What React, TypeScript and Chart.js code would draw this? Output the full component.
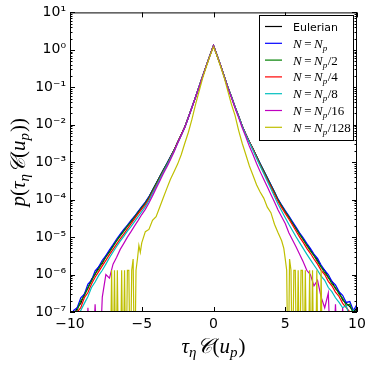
import React, { useEffect, useRef } from 'react';
import { Chart, registerables } from 'chart.js';

Chart.register(...registerables);

// ---------- data ----------
const xGrid = [
  -10, -9.75, -9.5, -9.25, -9, -8.75, -8.5, -8.25, -8, -7.75,
  -7.5, -7.25, -7, -6.75, -6.5, -6.25, -6, -5.75, -5.5, -5.25,
  -5, -4.75, -4.5, -4.25, -4, -3.75, -3.5, -3.25, -3, -2.75,
  -2.5, -2.25, -2, -1.75, -1.5, -1.25, -1, -0.75, -0.5, -0.25,
  0,
  0.25, 0.5, 0.75, 1, 1.25, 1.5, 1.75, 2, 2.25, 2.5,
  2.75, 3, 3.25, 3.5, 3.75, 4, 4.25, 4.5, 4.75, 5,
  5.25, 5.5, 5.75, 6, 6.25, 6.5, 6.75, 7, 7.25, 7.5,
  7.75, 8, 8.25, 8.5, 8.75, 9, 9.25, 9.5, 9.75, 10,
];

const eulerian = [
  4.0e-8, 7.9e-8, 1.3e-7, 1.7e-7, 3.0e-7, 4.3e-7, 7.5e-7, 1.0e-6, 1.6e-6, 2.0e-6,
  3.1e-6, 4.1e-6, 5.9e-6, 8.1e-6, 1.12e-5, 1.48e-5, 2.0e-5, 2.6e-5, 3.5e-5, 4.7e-5,
  6.3e-5, 8.3e-5, 1.17e-4, 1.78e-4, 2.7e-4, 4.1e-4, 6.2e-4, 9.1e-4, 1.38e-3, 2.1e-3,
  3.4e-3, 5.4e-3, 8.7e-3, 1.58e-2, 2.95e-2, 5.5e-2, 1.05e-1, 2.0e-1, 3.8e-1, 7.1e-1,
  1.3,
  7.1e-1, 3.8e-1, 1.95e-1, 1.0e-1, 5.6e-2, 3.0e-2, 1.7e-2, 9.3e-3, 5.6e-3, 3.5e-3,
  2.3e-3, 1.45e-3, 9.1e-4, 5.9e-4, 3.8e-4, 2.45e-4, 1.58e-4, 1.0e-4, 6.9e-5, 4.9e-5,
  3.5e-5, 2.45e-5, 1.74e-5, 1.23e-5, 8.9e-6, 6.3e-6, 4.6e-6, 3.3e-6, 2.4e-6, 1.6e-6,
  1.3e-6, 8.3e-7, 6.6e-7, 4.2e-7, 3.4e-7, 2.1e-7, 1.7e-7, 1.4e-7, 1.0e-7, 1.3e-7,
];

const nFull = [
  6.0e-8, 1.1e-7, 1.3e-7, 2.4e-7, 3.0e-7, 5.6e-7, 7.1e-7, 1.25e-6, 1.6e-6, 2.4e-6,
  3.2e-6, 4.6e-6, 6.3e-6, 8.9e-6, 1.2e-5, 1.6e-5, 2.1e-5, 2.8e-5, 3.6e-5, 4.9e-5,
  6.5e-5, 8.6e-5, 1.2e-4, 1.8e-4, 2.7e-4, 4.1e-4, 6.2e-4, 9.2e-4, 1.39e-3, 2.1e-3,
  3.4e-3, 5.4e-3, 8.7e-3, 1.58e-2, 2.95e-2, 5.5e-2, 1.05e-1, 2.0e-1, 3.8e-1, 7.1e-1,
  1.3,
  7.1e-1, 3.8e-1, 1.95e-1, 1.0e-1, 5.6e-2, 3.0e-2, 1.7e-2, 9.3e-3, 5.6e-3, 3.5e-3,
  2.3e-3, 1.45e-3, 9.2e-4, 6.0e-4, 3.9e-4, 2.5e-4, 1.62e-4, 1.03e-4, 7.2e-5, 5.1e-5,
  3.7e-5, 2.6e-5, 1.85e-5, 1.3e-5, 9.6e-6, 6.8e-6, 5.0e-6, 3.5e-6, 2.7e-6, 1.8e-6,
  1.3e-6, 1.0e-6, 6.6e-7, 5.3e-7, 3.5e-7, 2.8e-7, 1.8e-7, 1.9e-7, 1.1e-7, 1.6e-7,
];

const nHalf = [
  3.0e-8, 9.0e-8, 1.1e-7, 2.0e-7, 2.7e-7, 4.5e-7, 6.6e-7, 1.05e-6, 1.4e-6, 2.1e-6,
  2.9e-6, 4.0e-6, 5.6e-6, 7.9e-6, 1.08e-5, 1.44e-5, 1.95e-5, 2.55e-5, 3.4e-5, 4.6e-5,
  6.1e-5, 8.1e-5, 1.14e-4, 1.75e-4, 2.65e-4, 4.0e-4, 6.1e-4, 9.0e-4, 1.37e-3, 2.1e-3,
  3.4e-3, 5.4e-3, 8.7e-3, 1.58e-2, 2.95e-2, 5.5e-2, 1.05e-1, 2.0e-1, 3.8e-1, 7.1e-1,
  1.3,
  7.1e-1, 3.8e-1, 1.95e-1, 1.0e-1, 5.6e-2, 3.0e-2, 1.7e-2, 9.3e-3, 5.6e-3, 3.5e-3,
  2.3e-3, 1.44e-3, 9.0e-4, 5.8e-4, 3.7e-4, 2.4e-4, 1.54e-4, 9.7e-5, 6.7e-5, 4.7e-5,
  3.4e-5, 2.35e-5, 1.67e-5, 1.18e-5, 8.5e-6, 6.0e-6, 4.3e-6, 3.2e-6, 2.2e-6, 1.6e-6,
  1.1e-6, 8.5e-7, 5.6e-7, 4.5e-7, 3.0e-7, 2.3e-7, 1.5e-7, 1.6e-7, 9.0e-8, 1.2e-7,
];

const nQuarter = [
  2.0e-8, 5.0e-8, 1.0e-7, 1.3e-7, 2.4e-7, 3.3e-7, 5.6e-7, 8.5e-7, 1.2e-6, 1.7e-6,
  2.4e-6, 3.4e-6, 4.7e-6, 6.5e-6, 9.0e-6, 1.2e-5, 1.65e-5, 2.25e-5, 3.05e-5, 4.15e-5,
  5.6e-5, 7.4e-5, 1.04e-4, 1.58e-4, 2.4e-4, 3.65e-4, 5.6e-4, 8.3e-4, 1.3e-3, 2.05e-3,
  3.35e-3, 5.4e-3, 8.7e-3, 1.58e-2, 2.95e-2, 5.5e-2, 1.05e-1, 2.0e-1, 3.8e-1, 7.1e-1,
  1.3,
  7.1e-1, 3.8e-1, 1.95e-1, 1.0e-1, 5.6e-2, 3.0e-2, 1.7e-2, 9.3e-3, 5.6e-3, 3.45e-3,
  2.2e-3, 1.35e-3, 8.3e-4, 5.3e-4, 3.4e-4, 2.2e-4, 1.4e-4, 8.9e-5, 6.1e-5, 4.3e-5,
  3.05e-5, 2.1e-5, 1.45e-5, 1.0e-5, 7.2e-6, 5.0e-6, 3.7e-6, 2.6e-6, 1.9e-6, 1.3e-6,
  1.0e-6, 6.6e-7, 5.0e-7, 3.4e-7, 2.6e-7, 1.7e-7, 1.3e-7, 1.0e-7, 8.0e-8, 1.0e-7,
];

const nEighth = [
  1.0e-8, 4.0e-8, 7.0e-8, 1.1e-7, 1.7e-7, 2.6e-7, 4.5e-7, 6.3e-7, 9.5e-7, 1.3e-6,
  1.9e-6, 2.8e-6, 4.0e-6, 5.6e-6, 7.8e-6, 1.05e-5, 1.45e-5, 1.9e-5, 2.6e-5, 3.5e-5,
  4.8e-5, 6.5e-5, 9.4e-5, 1.47e-4, 2.25e-4, 3.5e-4, 5.4e-4, 8.1e-4, 1.25e-3, 1.95e-3,
  3.2e-3, 5.2e-3, 8.5e-3, 1.56e-2, 2.93e-2, 5.5e-2, 1.05e-1, 2.0e-1, 3.8e-1, 7.1e-1,
  1.3,
  7.1e-1, 3.8e-1, 1.95e-1, 1.0e-1, 5.6e-2, 3.0e-2, 1.7e-2, 9.2e-3, 5.4e-3, 3.35e-3,
  2.1e-3, 1.28e-3, 7.9e-4, 5.0e-4, 3.1e-4, 1.95e-4, 1.22e-4, 7.5e-5, 5.0e-5, 3.3e-5,
  2.2e-5, 1.5e-5, 1.02e-5, 7.1e-6, 5.0e-6, 3.5e-6, 2.5e-6, 1.8e-6, 1.3e-6, 9.0e-7,
  7.0e-7, 4.5e-7, 3.5e-7, 2.4e-7, 1.8e-7, 1.3e-7, 1.5e-7, 7.0e-8, 1.1e-7, 5.0e-8,
];

const nSixteenth = [
  null, null, null, null, 1e-9, 1.3e-7, 1e-9, 1.6e-7, 1e-9, 2.5e-7,
  1.0e-6, 8.0e-7, 1.9e-6, 2.9e-6, 4.7e-6, 6.8e-6, 1.0e-5, 1.4e-5, 2.0e-5, 2.8e-5,
  4.0e-5, 5.5e-5, 8.1e-5, 1.26e-4, 2.0e-4, 3.1e-4, 4.9e-4, 7.4e-4, 1.17e-3, 1.87e-3,
  3.2e-3, 5.2e-3, 8.4e-3, 1.55e-2, 2.9e-2, 5.4e-2, 1.03e-1, 1.98e-1, 3.75e-1, 7.0e-1,
  1.3,
  7.0e-1, 3.75e-1, 1.9e-1, 9.6e-2, 5.3e-2, 2.8e-2, 1.55e-2, 8.3e-3, 4.8e-3, 2.65e-3,
  1.6e-3, 9.2e-4, 5.6e-4, 3.5e-4, 2.2e-4, 1.37e-4, 8.6e-5, 5.3e-5, 3.5e-5, 2.3e-5,
  1.3e-5, 8.5e-6, 5.5e-6, 3.5e-6, 2.2e-6, 1.3e-6, 1.0e-6, 5.0e-7, 7.0e-7, 2.5e-7,
  1.3e-7, 3.2e-7, 1e-9, 1.6e-7, 1e-9, 1.3e-7, 1e-9, null, null, null,
];

const yellowX = [
  -7.2, -7.1, -7.0, -6.9, -6.8, -6.7, -6.6, -6.5, -6.4, -6.3,
  -6.2, -6.1, -6.0, -5.9, -5.8, -5.7, -5.6, -5.5, -5.4, -5.3,
  -5.2, -5.1, -5.0, -4.75, -4.5, -4.25, -4, -3.75, -3.5, -3.25,
  -3, -2.75, -2.5, -2.25, -2, -1.75, -1.5, -1.25, -1, -0.75,
  -0.5, -0.25, 0, 0.25, 0.5, 0.75, 1, 1.25, 1.5, 1.75,
  2, 2.25, 2.5, 2.75, 3, 3.25, 3.5, 3.75, 4, 4.25,
  4.5, 4.75, 4.9, 5.0, 5.1, 5.2, 5.3, 5.4, 5.5, 5.6,
  5.7, 5.8, 5.9, 6.0, 6.1, 6.2, 6.3, 6.4, 6.5, 6.6,
  6.7, 6.8, 6.9, 7.0, 7.1, 7.2, 7.3, 7.4, 7.5, 7.6,
];

const nOver128 = [
  1e-9, 1.3e-6, 1e-9, 1.3e-6, 1e-9, 1.3e-6, 1e-9, 1e-9, 1.3e-6, 1e-9,
  1.3e-6, 1e-9, 1.3e-6, 1.3e-6, 1e-9, 1.3e-6, 2.6e-6, 1e-9, 1.3e-6, 2.6e-6,
  6.0e-6, 3.9e-6, 7.0e-6, 1.4e-5, 1.6e-5, 2.8e-5, 3.5e-5, 6.3e-5, 1.12e-4, 2.0e-4,
  3.5e-4, 5.6e-4, 8.9e-4, 1.58e-3, 3.2e-3, 6.3e-3, 1.41e-2, 3.5e-2, 7.9e-2, 1.78e-1,
  3.55e-1, 6.8e-1, 1.2, 6.8e-1, 3.55e-1, 1.78e-1, 7.9e-2, 3.5e-2, 1.78e-2, 7.1e-3,
  3.2e-3, 1.6e-3, 7.9e-4, 4.5e-4, 2.5e-4, 1.6e-4, 1.1e-4, 6.3e-5, 4.5e-5, 2.2e-5,
  1.3e-5, 8.0e-6, 5.0e-6, 2.6e-6, 1.3e-6, 1e-9, 2.6e-6, 1.3e-6, 1e-9, 1.3e-6,
  1.3e-6, 1e-9, 1.3e-6, 1e-9, 1.3e-6, 1.3e-6, 1e-9, 1.3e-6, 1e-9, 1e-9,
  1.3e-6, 1e-9, 1.3e-6, 1e-9, 1e-9, 1.3e-6, 1e-9, 1e-9, 1.3e-6, 1e-9,
];

const seriesLabels = ['Eulerian', 'N=N_p', 'N=N_p/2', 'N=N_p/4', 'N=N_p/8', 'N=N_p/16', 'N=N_p/128'];
const legendSuffix = ['', '', '/2', '/4', '/8', '/16', '/128'];
const seriesColors = ['#000000', '#0000ff', '#008000', '#ff0000', '#00bfbf', '#bf00bf', '#bfbf00'];

const xTickValues = [-10, -5, 0, 5, 10];
const yTickExponents = [-7, -6, -5, -4, -3, -2, -1, 0, 1];

// ---------- helpers ----------
const SUP: Record<string, string> = {
  '-': '\u207B', '0': '\u2070', '1': '\u00B9', '2': '\u00B2', '3': '\u00B3',
  '4': '\u2074', '5': '\u2075', '6': '\u2076', '7': '\u2077', '8': '\u2078', '9': '\u2079',
};
const toSup = (s: string) => s.split('').map((c) => SUP[c] ?? c).join('');

type Seg = { t: string; f: string; dy?: number; gap?: number };

function segsWidth(ctx: CanvasRenderingContext2D, segs: Seg[]) {
  let w = 0;
  for (const s of segs) {
    ctx.font = s.f;
    w += ctx.measureText(s.t).width + (s.gap || 0);
  }
  return w;
}

function drawSegs(ctx: CanvasRenderingContext2D, segs: Seg[], x: number, y: number) {
  let cx = x;
  for (const s of segs) {
    ctx.font = s.f;
    ctx.fillText(s.t, cx, y + (s.dy || 0));
    cx += ctx.measureText(s.t).width + (s.gap || 0);
  }
}

const SERIF = '"Liberation Serif", "DejaVu Serif", serif';
const tIt = `italic 21px ${SERIF}`;
const tUp = `21px ${SERIF}`;
const tSub = `italic 15px ${SERIF}`;

const innerSegs: Seg[] = [
  { t: '\u03C4', f: tIt },
  { t: '\u03B7', f: tSub, dy: 4, gap: 1 },
  { t: '\uD835\uDC9E', f: tIt },
  { t: '(', f: tUp },
  { t: 'u', f: tIt },
  { t: 'p', f: tSub, dy: 4, gap: 1 },
  { t: ')', f: tUp },
];
const xTitleSegs: Seg[] = innerSegs;
const yTitleSegs: Seg[] = [{ t: 'p', f: tIt }, { t: '(', f: tUp }, ...innerSegs, { t: ')', f: tUp }];

const decorPlugin = {
  id: 'decor',
  afterDatasetsDraw(chart: any) {
    const { ctx, chartArea } = chart;
    const { left, right, top, bottom } = chartArea;
    const xs = chart.scales.x;
    const ys = chart.scales.y;
    ctx.save();
    ctx.strokeStyle = '#000';
    ctx.lineWidth = 1;
    ctx.strokeRect(left + 0.5, top + 0.5, right - left - 1, bottom - top - 1);
    ctx.beginPath();
    for (const v of xTickValues) {
      const px = Math.round(xs.getPixelForValue(v)) + 0.5;
      ctx.moveTo(px, bottom);
      ctx.lineTo(px, bottom - 5);
      ctx.moveTo(px, top);
      ctx.lineTo(px, top + 5);
    }
    for (const e of yTickExponents) {
      const py = Math.round(ys.getPixelForValue(Math.pow(10, e))) + 0.5;
      ctx.moveTo(left, py);
      ctx.lineTo(left + 5, py);
      ctx.moveTo(right, py);
      ctx.lineTo(right - 5, py);
      if (e < 1) {
        for (let k = 2; k <= 9; k++) {
          const pm = Math.round(ys.getPixelForValue(k * Math.pow(10, e))) + 0.5;
          ctx.moveTo(left, pm);
          ctx.lineTo(left + 2.5, pm);
          ctx.moveTo(right, pm);
          ctx.lineTo(right - 2.5, pm);
        }
      }
    }
    ctx.stroke();

    // legend
    const bx = 259.5, by = 15.5, bw = 94, bh = 125;
    ctx.fillStyle = '#fff';
    ctx.fillRect(bx, by, bw, bh);
    ctx.strokeStyle = '#000';
    ctx.lineWidth = 1;
    ctx.strokeRect(bx, by, bw, bh);
    ctx.textBaseline = 'alphabetic';
    ctx.textAlign = 'left';
    for (let i = 0; i < seriesLabels.length; i++) {
      const ry = 26.5 + i * 16.8;
      ctx.strokeStyle = seriesColors[i];
      ctx.lineWidth = 1.2;
      ctx.beginPath();
      ctx.moveTo(265, ry);
      ctx.lineTo(282, ry);
      ctx.stroke();
      ctx.fillStyle = '#000';
      if (i === 0) {
        ctx.font = '11px "DejaVu Sans"';
        ctx.fillText(seriesLabels[i], 293, ry + 4);
      } else {
        const lIt = `italic 13px ${SERIF}`;
        const lUp = `13px ${SERIF}`;
        const lSub = `italic 9px ${SERIF}`;
        const segs: Seg[] = [
          { t: 'N', f: lIt, gap: 2.5 },
          { t: '=', f: lUp, gap: 2.5 },
          { t: 'N', f: lIt },
          { t: 'p', f: lSub, dy: 3, gap: 0.5 },
          { t: legendSuffix[i], f: lUp },
        ];
        drawSegs(ctx, segs, 293, ry + 4.5);
      }
    }

    // axis titles
    ctx.fillStyle = '#000';
    const xw = segsWidth(ctx, xTitleSegs);
    drawSegs(ctx, xTitleSegs, (left + right) / 2 - xw / 2, 353);
    const yw = segsWidth(ctx, yTitleSegs);
    ctx.translate(25, (top + bottom) / 2);
    ctx.rotate(-Math.PI / 2);
    drawSegs(ctx, yTitleSegs, -yw / 2, 0);
    ctx.restore();
  },
};

export default function App() {
  const canvasRef = useRef<HTMLCanvasElement | null>(null);

  useEffect(() => {
    const canvas = canvasRef.current;
    if (!canvas) return;
    const mainSeries = [eulerian, nFull, nHalf, nQuarter, nEighth, nSixteenth];
    const datasets: any[] = mainSeries.map((vals, i) => ({
      label: seriesLabels[i],
      data: xGrid.map((x, j) => ({ x, y: vals[j] })),
      borderColor: seriesColors[i],
      borderWidth: 1.2,
      pointRadius: 0,
      tension: 0,
      fill: false,
      spanGaps: false,
      order: 6 - i,
    }));
    datasets.push({
      label: seriesLabels[6],
      data: yellowX.map((x, j) => ({ x, y: nOver128[j] })),
      borderColor: seriesColors[6],
      borderWidth: 1.2,
      pointRadius: 0,
      tension: 0,
      fill: false,
      spanGaps: false,
      order: 0,
    });

    const chart = new Chart(canvas, {
      type: 'line',
      data: { datasets },
      options: {
        animation: false,
        responsive: false,
        devicePixelRatio: 1,
        layout: { padding: { left: 0, right: 17, top: 12, bottom: 0 } },
        plugins: { legend: { display: false }, tooltip: { enabled: false } },
        scales: {
          x: {
            type: 'linear',
            min: -10,
            max: 10,
            grid: { display: false, drawTicks: false },
            border: { display: false },
            afterBuildTicks: (s: any) => {
              s.ticks = xTickValues.map((v) => ({ value: v }));
            },
            afterFit: (s: any) => {
              s.height = 53;
            },
            ticks: {
              padding: 4,
              color: '#000',
              maxRotation: 0,
              font: { family: 'DejaVu Sans', size: 14 },
              callback: (v: any) => (Number(v) < 0 ? '\u2212' + Math.abs(Number(v)) : String(v)),
            },
          },
          y: {
            type: 'logarithmic',
            min: 1e-7,
            max: 10,
            grid: { display: false, drawTicks: false },
            border: { display: false },
            afterBuildTicks: (s: any) => {
              s.ticks = yTickExponents.map((e) => ({ value: Math.pow(10, e) }));
            },
            afterFit: (s: any) => {
              s.width = 70;
            },
            ticks: {
              padding: 4,
              color: '#000',
              font: { family: 'DejaVu Sans', size: 14 },
              callback: (v: any) => '10' + toSup(String(Math.round(Math.log10(Number(v))))),
            },
          },
        },
      } as any,
      plugins: [decorPlugin],
    });
    return () => chart.destroy();
  }, []);

  return (
    <div style={{ position: 'fixed', left: 0, top: 0, width: 374, height: 365, background: '#fff' }}>
      <canvas ref={canvasRef} width={374} height={365} style={{ width: 374, height: 365, display: 'block' }} />
    </div>
  );
}
